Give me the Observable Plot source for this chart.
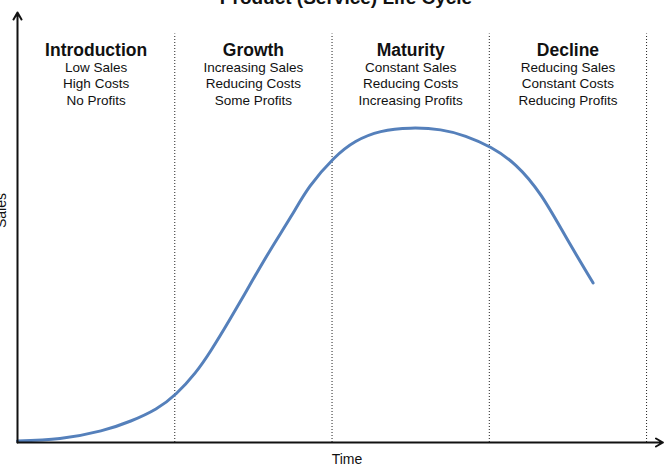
<!DOCTYPE html>
<html>
<head>
<meta charset="utf-8">
<script src="https://cdn.jsdelivr.net/npm/d3@7"></script>
<script src="https://cdn.jsdelivr.net/npm/@observablehq/plot@0.6"></script>
<style>
  html, body { margin: 0; padding: 0; background: white; overflow: hidden; }
  #chart svg { display: block; font-family: "Liberation Sans", Arial, sans-serif; }
</style>
</head>
<body>
<div id="chart"></div>
<script>
// ---- data ----
const title = "Product (Service) Life Cycle";
const xLabel = "Time";
const yLabel = "Sales";
const stageNames = ["Introduction", "Growth", "Maturity", "Decline"];
const stageMid = [0.5, 1.5, 2.5, 3.5];
const stageNotes = [
  "Low Sales\nHigh Costs\nNo Profits",
  "Increasing Sales\nReducing Costs\nSome Profits",
  "Constant Sales\nReducing Costs\nIncreasing Profits",
  "Reducing Sales\nConstant Costs\nReducing Profits"
];
const boundaries = [1, 2, 3, 4];
const dividerTop = 95;
const time  = [0, 0.27, 0.53, 0.72, 0.88, 1.01, 1.13, 1.23, 1.35, 1.48, 1.61, 1.74, 1.86, 2.01, 2.15, 2.31, 2.50, 2.69, 2.85, 3.01, 3.17, 3.33, 3.49, 3.66];
const sales = [0.35, 0.93, 2.7, 5.0, 7.8, 11.4, 16.2, 21.4, 28.6, 36.8, 44.9, 52.6, 59.6, 66.0, 70.0, 72.3, 73.1, 72.7, 71.2, 68.6, 64.4, 57.4, 47.6, 37.1];
const xMax = 4.114;
const yMax = 100;

const curve = time.map((t, i) => ({t, s: sales[i]}));
const stages = stageNames.map((name, i) => ({name, mid: stageMid[i], notes: stageNotes[i]}));

const chart = Plot.plot({
  width: 664,
  height: 464,
  marginLeft: 17,
  marginRight: 0,
  marginTop: 12,
  marginBottom: 22,
  x: {domain: [0, xMax], axis: null},
  y: {domain: [0, yMax], axis: null},
  marks: [
    Plot.ruleX(boundaries, {x: d => d, y1: 0, y2: dividerTop, stroke: "#222", strokeWidth: 1, strokeDasharray: "1,2"}),
    Plot.line(curve, {x: "t", y: "s", curve: "natural", stroke: "#5580bb", strokeWidth: 3}),
    Plot.arrow([{x1: 0, y1: 0, x2: 0, y2: yMax}], {x1: "x1", y1: "y1", x2: "x2", y2: "y2", stroke: "#111", strokeWidth: 2, headLength: 6}),
    Plot.arrow([{x1: 0, y1: 0, x2: xMax - 0.01, y2: 0}], {x1: "x1", y1: "y1", x2: "x2", y2: "y2", stroke: "#111", strokeWidth: 2, headLength: 6}),
    Plot.text(stages, {x: "mid", text: "name", frameAnchor: "top", dy: 43, lineAnchor: "bottom", fontSize: 17.5, fontWeight: "bold", fill: "#111"}),
    Plot.text(stages, {x: "mid", text: "notes", frameAnchor: "top", dy: 92, lineAnchor: "bottom", fontSize: 13.5, lineHeight: 1.22, fill: "#111"}),
    Plot.text([title], {text: d => d, frameAnchor: "top", dy: -9, dx: 5, lineAnchor: "bottom", fontSize: 19, fontWeight: "bold", fill: "#111"}),
    Plot.text([xLabel], {text: d => d, frameAnchor: "bottom", dy: 21, dx: 6, lineAnchor: "bottom", fontSize: 14, fill: "#111"}),
    Plot.text([yLabel], {text: d => d, frameAnchor: "left", textAnchor: "middle", rotate: -90, dx: -12, dy: -17, lineAnchor: "bottom", fontSize: 14, fill: "#111"})
  ]
});
document.getElementById("chart").appendChild(chart);
</script>
</body>
</html>
